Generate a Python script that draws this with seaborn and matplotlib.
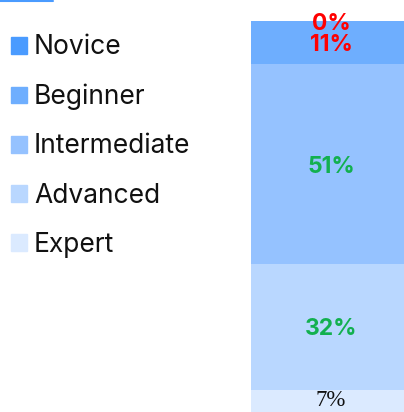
import matplotlib
matplotlib.use("Agg")
import numpy as np
import seaborn as sns
from matplotlib import pyplot as plt
from matplotlib.lines import Line2D

levels = ["Novice", "Beginner", "Intermediate", "Advanced", "Expert"]
shares = [0, 11, 51, 32, 7]
colors = ["#4a9bff", "#6eaefe", "#95c2ff", "#b9d7ff", "#dbeaff"]
label_colors = ["#ff0000", "#ff0000", "#12b04f", "#12b04f", "#111111"]

sns.set_theme(style="white")
plt.rcParams["font.family"] = ["Inter", "DejaVu Sans"]

W, H = 404, 412
fig = plt.figure(figsize=(W / 100, H / 100), dpi=100)
ax = fig.add_axes([0, 0, 1, 1])

# axes scale: 3.92 px per percentage point, zero at 417 px from the top
px = 3.92
zero = 417

# stack from the bottom: Expert first
bottom = 0.0
handles = {}
for name, val, col in list(zip(levels, shares, colors))[::-1]:
    sns.barplot(x=["skill"], y=[val], bottom=bottom, color=col, width=0.8,
                ax=ax, saturation=1, errorbar=None, linewidth=0)
    handles[name] = plt.Rectangle((0, 0), 1, 1, color=col)
    bottom += val

# segment labels
bottom = 0.0
for name, val, lc in list(zip(levels, shares, label_colors))[::-1]:
    mid = bottom + val / 2
    if name == "Expert":
        # bar runs off the bottom edge; keep the label inside the canvas
        ax.text(0, (zero - 411) / px, f"{val}%", ha="center", va="bottom",
                color=lc, fontsize=16.5, family=["Liberation Serif", "DejaVu Serif"])
    else:
        ax.text(0, mid, f"{val}%", ha="center", va="center_baseline", color=lc,
                fontsize=16.5, fontweight="bold")
    bottom += val

ax.set_ylim((zero - H) / px, zero / px)
ax.set_xlim(-0.4 - 251 * 0.005, -0.4 + (W - 251) * 0.005)
ax.axis("off")

leg = fig.legend(
    [handles[n] for n in levels], levels,
    loc="upper left", bbox_to_anchor=(11 / W, 1 - 34.5 / H),
    frameon=False, fontsize=19, handlelength=0.6, handleheight=0.6,
    handletextpad=0.27, labelspacing=0.88, borderpad=0, borderaxespad=0,
)
for t in leg.get_texts():
    t.set_color("#111111")

fig.add_artist(Line2D([0, 53 / W], [1 - 0.8 / H, 1 - 0.8 / H], color="#4a9bff",
                      linewidth=1.5, transform=fig.transFigure))

fig.savefig("out.png", dpi=100)
